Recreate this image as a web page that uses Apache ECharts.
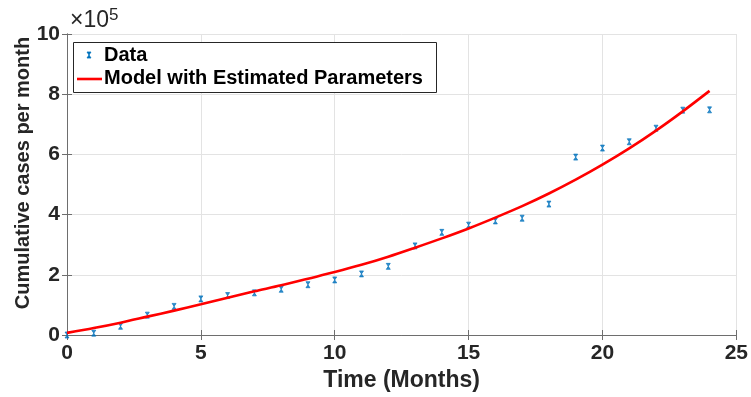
<!DOCTYPE html>
<html>
<head>
<meta charset="utf-8">
<script src="https://cdn.jsdelivr.net/npm/echarts@6/dist/echarts.min.js"></script>
<style>
  html, body { margin: 0; padding: 0; background: #fff; }
  #chart { width: 751px; height: 397px; }
</style>
</head>
<body>
<div id="chart"></div>
<script>
// Months since start
const months = [0, 1, 2, 3, 4, 5, 6, 7, 8, 9, 10, 11, 12, 13, 14, 15, 16, 17, 18, 19, 20, 21, 22, 23, 24];
// Observed cumulative cases per month
const observedCases = [0, 6000, 29000, 66000, 95000, 120000, 131000, 140000, 152000, 167000, 183000,
  203000, 228000, 296000, 341000, 365000, 379000, 388000, 435000, 591000, 621000, 642000, 687000, 747000, 748000];
// Fitted model curve (estimated parameters)
const modelCases = [7000, 23000, 41000, 61000, 81000, 102000, 124000, 145000, 165000, 187000, 209000,
  233000, 260000, 290000, 321000, 354000, 390000, 428000, 470000, 516000, 566000, 620000, 679000, 743000, 811000];
// Axis ticks
const xTicks = { min: 0, max: 25, interval: 5 };
const yTicks = { min: 0, max: 1000000, interval: 200000 };
const yScale = 100000;

const FONT = 'Liberation Sans, Arial, sans-serif';
const TXT = '#262626';
const AXIS = '#6e6e6e';
const GRID = '#e3e3e3';

const chart = echarts.init(document.getElementById('chart'), null, { renderer: 'canvas' });

const baseAxis = {
  axisLine: { show: true, lineStyle: { color: AXIS, width: 1 } },
  axisTick: { show: true, inside: true, length: 5, lineStyle: { color: AXIS, width: 1 } },
  splitLine: { show: false },
  axisLabel: { show: false }
};

// small bow-tie marker used for the observations
const marker = 'path://M0,0L10,0L0,10L10,10Z';

chart.setOption({
  animation: false,
  backgroundColor: '#ffffff',
  grid: { left: 67, right: 13, top: 34, bottom: 62, containLabel: false },
  xAxis: [
    Object.assign({}, baseAxis, {
      type: 'value', position: 'bottom', min: xTicks.min, max: xTicks.max, interval: xTicks.interval,
      splitLine: { show: true, lineStyle: { color: GRID, width: 1 } },
      axisLabel: { show: true, margin: 8, color: TXT, fontFamily: FONT, fontWeight: 'bold', fontSize: 21 },
      name: 'Time (Months)', nameLocation: 'middle', nameGap: 34,
      nameTextStyle: { color: TXT, fontFamily: FONT, fontWeight: 'bold', fontSize: 23 }
    }),
    Object.assign({}, baseAxis, {
      type: 'value', position: 'top', min: xTicks.min, max: xTicks.max, interval: xTicks.interval
    })
  ],
  yAxis: [
    Object.assign({}, baseAxis, {
      type: 'value', position: 'left', min: yTicks.min, max: yTicks.max, interval: yTicks.interval,
      splitLine: { show: true, lineStyle: { color: GRID, width: 1 } },
      axisLabel: {
        show: true, margin: 7, color: TXT, fontFamily: FONT, fontWeight: 'bold', fontSize: 21,
        formatter: v => String(Math.round(v / yScale))
      }
    }),
    Object.assign({}, baseAxis, {
      type: 'value', position: 'right', min: yTicks.min, max: yTicks.max, interval: yTicks.interval
    })
  ],
  series: [
    {
      name: 'Data', type: 'scatter',
      data: months.map((m, i) => [m, observedCases[i]]),
      symbol: marker, symbolSize: [4, 6],
      itemStyle: { color: '#0072BD', borderColor: '#0072BD', borderWidth: 0.8 },
      z: 3
    },
    {
      name: 'Model with Estimated Parameters', type: 'line',
      data: months.map((m, i) => [m, modelCases[i]]),
      smooth: 0.3, showSymbol: false,
      lineStyle: { color: '#ff0000', width: 2.6 },
      z: 4
    }
  ],
  graphic: [
    // y-axis title
    {
      type: 'text', x: 23, y: 173, rotation: Math.PI / 2, z: 10,
      style: {
        text: 'Cumulative cases per month', fontFamily: FONT, fontWeight: 'bold', fontSize: 20,
        fill: TXT, align: 'center', verticalAlign: 'middle'
      }
    },
    // exponent label above the y axis
    {
      type: 'text', left: 70, top: 7, z: 10,
      style: {
        text: '{a|×10}{b|5}',
        rich: {
          a: { fontFamily: FONT, fontSize: 23, fill: TXT, verticalAlign: 'bottom' },
          b: { fontFamily: FONT, fontSize: 17, fill: TXT, verticalAlign: 'top', padding: [0, 0, 8, 0] }
        }
      }
    },
    // legend box
    {
      type: 'rect', z: 10,
      shape: { x: 73.5, y: 42.5, width: 363, height: 50 },
      style: { fill: '#ffffff', stroke: '#262626', lineWidth: 1 }
    },
    {
      type: 'polygon', z: 11,
      shape: { points: [[87, 52], [91, 52], [87, 58], [91, 58]] },
      style: { fill: '#0072BD', stroke: '#0072BD', lineWidth: 0.8 }
    },
    {
      type: 'line', z: 11,
      shape: { x1: 77, y1: 79, x2: 102, y2: 79 },
      style: { stroke: '#ff0000', lineWidth: 2.6 }
    },
    {
      type: 'text', z: 11, left: 104, top: 45,
      style: { text: 'Data', fontFamily: FONT, fontWeight: 'bold', fontSize: 20, fill: '#000' }
    },
    {
      type: 'text', z: 11, left: 104, top: 68,
      style: { text: 'Model with Estimated Parameters', fontFamily: FONT, fontWeight: 'bold', fontSize: 20, fill: '#000' }
    }
  ]
});
</script>
</body>
</html>
